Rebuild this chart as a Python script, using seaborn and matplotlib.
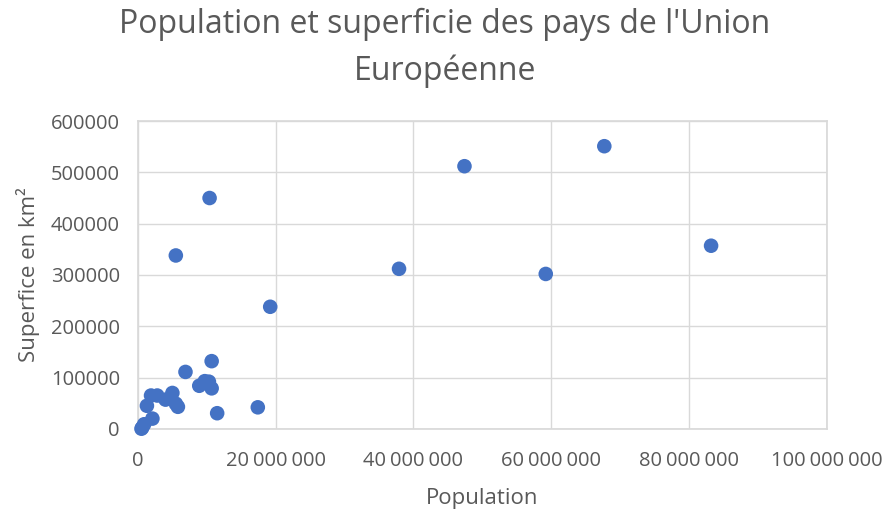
import matplotlib.pyplot as plt
import seaborn as sns
import pandas as pd
from matplotlib.ticker import FuncFormatter

# EU countries: population and area (km²)
pays = ['Allemagne', 'France', 'Italie', 'Espagne', 'Pologne', 'Roumanie',
        'Pays-Bas', 'Belgique', 'Tchéquie', 'Grèce', 'Portugal', 'Suède',
        'Hongrie', 'Autriche', 'Bulgarie', 'Danemark', 'Finlande', 'Slovaquie',
        'Irlande', 'Croatie', 'Lituanie', 'Slovénie', 'Lettonie', 'Estonie',
        'Chypre', 'Luxembourg', 'Malte']
population = [83200000, 67700000, 59200000, 47400000, 37900000, 19200000,
              17400000, 11500000, 10700000, 10700000, 10300000, 10400000,
              9700000, 8900000, 6900000, 5800000, 5500000, 5500000,
              5000000, 4000000, 2800000, 2100000, 1900000, 1300000,
              900000, 630000, 510000]
superficie = [357000, 551000, 302000, 512000, 312000, 238000,
              42000, 30500, 79000, 132000, 92000, 450000,
              93000, 84000, 111000, 43000, 338000, 49000,
              70000, 57000, 65000, 20000, 65000, 45000,
              9000, 2600, 300]

df = pd.DataFrame({'Pays': pays, 'Population': population, 'Superficie': superficie})

sns.set_theme(style='white')
plt.rcParams['font.family'] = ['Open Sans', 'DejaVu Sans']
gris = '#595959'

fig = plt.figure(figsize=(8.9, 5.13), dpi=100)
ax = fig.add_axes([0.155, 0.164, 0.774, 0.600])

sns.scatterplot(data=df, x='Population', y='Superficie', color='#4472C4',
                s=110, edgecolor='none', ax=ax, zorder=3, clip_on=False)

ax.set_xlim(0, 100000000)
ax.set_ylim(0, 600000)
ax.set_xticks(range(0, 100000001, 20000000))
ax.set_yticks(range(0, 600001, 100000))
ax.xaxis.set_major_formatter(FuncFormatter(lambda v, p: f'{int(v):,}'.replace(',', '\u202f')))
ax.yaxis.set_major_formatter(FuncFormatter(lambda v, p: f'{int(v)}'))

ax.grid(True, color='#D9D9D9', linewidth=1)
ax.set_axisbelow(True)
for side in ['top', 'right', 'left', 'bottom']:
    ax.spines[side].set_color('#D9D9D9')
ax.tick_params(axis='both', colors=gris, labelsize=14.5, length=0)
ax.tick_params(axis='y', pad=13)
ax.tick_params(axis='x', pad=16)

ax.set_xlabel('Population', color=gris, fontsize=16, labelpad=12)
ax.set_ylabel('Superfice en km²', color=gris, fontsize=16, labelpad=8)

fig.suptitle("Population et superficie des pays de l'Union\nEuropéenne",
             color=gris, fontsize=23, y=0.985, linespacing=1.55)

plt.savefig('out.png', dpi=100)
